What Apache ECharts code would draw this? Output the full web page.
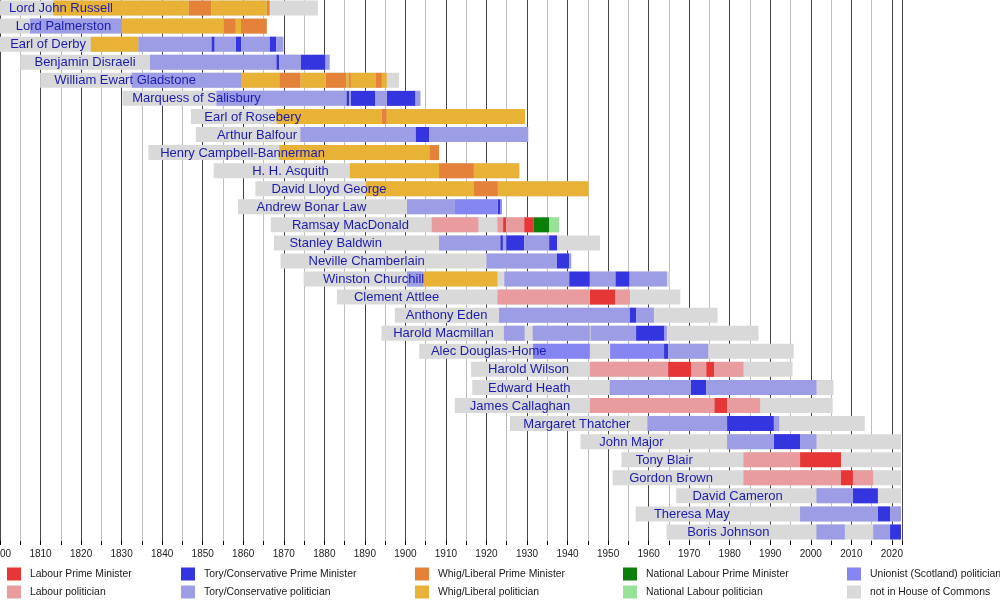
<!DOCTYPE html>
<html>
<head>
<meta charset="utf-8">
<script src="https://cdn.jsdelivr.net/npm/echarts@6/dist/echarts.min.js"></script>
<style>
  html, body { margin: 0; padding: 0; background: #fff; }
  #main { width: 1000px; height: 600px; }
</style>
</head>
<body>
<div id="main"></div>
<script>
let myChart = echarts.init(document.getElementById('main'))

// right edge of the timeline (mid 2022)
const today = 2022.25

const names = [
    'Lord John Russell', 'Lord Palmerston', 'Earl of Derby', 'Benjamin Disraeli',
    'William Ewart Gladstone', 'Marquess of Salisbury', 'Earl of Rosebery', 'Arthur Balfour',
    'Henry Campbell-Bannerman', 'H. H. Asquith', 'David Lloyd George', 'Andrew Bonar Law',
    'Ramsay MacDonald', 'Stanley Baldwin', 'Neville Chamberlain', 'Winston Churchill',
    'Clement Attlee', 'Anthony Eden', 'Harold Macmillan', 'Alec Douglas-Home',
    'Harold Wilson', 'Edward Heath', 'James Callaghan', 'Margaret Thatcher',
    'John Major', 'Tony Blair', 'Gordon Brown', 'David Cameron', 'Theresa May', 'Boris Johnson'
]

// where each name is written on its row (year)
const labelAt = [
    1802.2, 1803.9, 1802.5, 1808.5, 1813.4, 1832.6, 1850.4, 1853.5, 1839.5, 1862.2,
    1867.0, 1863.3, 1872.0, 1871.4, 1876.1, 1879.7, 1887.3, 1900.1, 1897.0, 1906.3,
    1920.4, 1920.4, 1915.9, 1929.1, 1947.8, 1956.8, 1955.2, 1970.8, 1961.3, 1969.5
]

const born = [
    1792.4, 1784.8, 1799.2, 1805.0, 1809.9, 1830.2, 1847.1, 1848.3, 1836.6, 1852.7,
    1863.0, 1858.7, 1866.8, 1867.6, 1869.2, 1874.9, 1883.1, 1897.4, 1894.1, 1903.4,
    1916.2, 1916.5, 1912.2, 1925.8, 1943.2, 1953.3, 1951.1, 1966.8, 1956.8, 1964.4
]

// null = still living
const died = [
    1878.4, 1865.8, 1869.9, 1881.3, 1898.4, 1903.7, 1929.5, 1930.3, 1908.3, 1928.1,
    1945.2, 1923.8, 1937.9, 1948.0, 1940.9, 1965.2, 1967.8, 1977.0, 1987.1, 1995.8,
    1995.5, 2005.6, 2005.4, 2013.3, null, null, null, null, null, null
]

// [from, to, kind] per row
// LP/L labour, CP/C tory, WP/W whig-liberal, NP/N national labour, U unionist (Scotland)
const terms = [
    [[1813.15, 1846.5, 'W'], [1846.5, 1852.15, 'WP'], [1852.15, 1865.8, 'W'], [1865.8, 1866.5, 'WP']],
    [[1807.4, 1830.1, 'C'], [1830.1, 1855.1, 'W'], [1855.1, 1858.15, 'WP'], [1858.15, 1859.45, 'W'], [1859.45, 1865.8, 'WP']],
    [[1822.4, 1834.1, 'W'], [1834.1, 1852.15, 'C'], [1852.15, 1852.95, 'CP'], [1852.95, 1858.15, 'C'], [1858.15, 1859.45, 'CP'],
     [1859.45, 1866.5, 'C'], [1866.5, 1868.15, 'CP'], [1868.15, 1869.9, 'C']],
    [[1837.0, 1868.15, 'C'], [1868.15, 1868.9, 'CP'], [1868.9, 1874.15, 'C'], [1874.15, 1880.3, 'CP'], [1880.3, 1881.3, 'C']],
    [[1832.5, 1859.45, 'C'], [1859.45, 1868.9, 'W'], [1868.9, 1874.15, 'WP'], [1874.15, 1880.3, 'W'], [1880.3, 1885.45, 'WP'],
     [1885.45, 1886.1, 'W'], [1886.1, 1886.55, 'WP'], [1886.55, 1892.6, 'W'], [1892.6, 1894.2, 'WP'], [1894.2, 1895.4, 'W']],
    [[1853.4, 1885.45, 'C'], [1885.45, 1886.1, 'CP'], [1886.1, 1886.55, 'C'], [1886.55, 1892.6, 'CP'], [1892.6, 1895.4, 'C'],
     [1895.4, 1902.5, 'CP'], [1902.5, 1903.7, 'C']],
    [[1868.2, 1894.2, 'W'], [1894.2, 1895.4, 'WP'], [1895.4, 1929.5, 'W']],
    [[1874.1, 1902.5, 'C'], [1902.5, 1905.9, 'CP'], [1905.9, 1930.3, 'C']],
    [[1868.9, 1905.9, 'W'], [1905.9, 1908.3, 'WP']],
    [[1886.3, 1908.3, 'W'], [1908.3, 1916.9, 'WP'], [1916.9, 1928.1, 'W']],
    [[1890.3, 1916.9, 'W'], [1916.9, 1922.8, 'WP'], [1922.8, 1945.2, 'W']],
    [[1900.4, 1912.1, 'C'], [1912.1, 1922.8, 'U'], [1922.8, 1923.4, 'CP'], [1923.4, 1923.8, 'U']],
    [[1906.5, 1918.0, 'L'], [1922.7, 1924.1, 'L'], [1924.1, 1924.85, 'LP'], [1924.85, 1929.3, 'L'], [1929.3, 1931.6, 'LP'],
     [1931.6, 1935.45, 'NP'], [1935.45, 1937.9, 'N']],
    [[1908.3, 1923.4, 'C'], [1923.4, 1924.05, 'CP'], [1924.05, 1924.85, 'C'], [1924.85, 1929.3, 'CP'], [1929.3, 1935.45, 'C'],
     [1935.45, 1937.4, 'CP']],
    [[1920.0, 1937.4, 'C'], [1937.4, 1940.4, 'CP'], [1940.4, 1940.9, 'C']],
    [[1900.4, 1904.5, 'C'], [1904.5, 1922.7, 'W'], [1924.4, 1940.4, 'C'], [1940.4, 1945.5, 'CP'], [1945.5, 1951.8, 'C'],
     [1951.8, 1955.3, 'CP'], [1955.3, 1964.5, 'C']],
    [[1922.7, 1945.5, 'L'], [1945.5, 1951.8, 'LP'], [1951.8, 1955.4, 'L']],
    [[1923.1, 1955.3, 'C'], [1955.3, 1956.9, 'CP'], [1956.9, 1961.3, 'C']],
    [[1924.3, 1929.4, 'C'], [1931.4, 1945.5, 'C'], [1945.7, 1956.9, 'C'], [1956.9, 1963.9, 'CP'], [1963.9, 1964.5, 'C']],
    [[1931.5, 1945.5, 'U'], [1950.5, 1963.8, 'U'], [1963.8, 1964.8, 'CP'], [1964.8, 1974.7, 'C']],
    [[1945.5, 1964.8, 'L'], [1964.8, 1970.45, 'LP'], [1970.45, 1974.2, 'L'], [1974.2, 1976.2, 'LP'], [1976.2, 1983.4, 'L']],
    [[1950.4, 1970.45, 'C'], [1970.45, 1974.2, 'CP'], [1974.2, 2001.4, 'C']],
    [[1945.5, 1976.2, 'L'], [1976.2, 1979.35, 'LP'], [1979.35, 1987.5, 'L']],
    [[1959.7, 1979.35, 'C'], [1979.35, 1990.9, 'CP'], [1990.9, 1992.2, 'C']],
    [[1979.35, 1990.9, 'C'], [1990.9, 1997.35, 'CP'], [1997.35, 2001.4, 'C']],
    [[1983.4, 1997.35, 'L'], [1997.35, 2007.45, 'LP']],
    [[1983.4, 2007.45, 'L'], [2007.45, 2010.4, 'LP'], [2010.4, 2015.4, 'L']],
    [[2001.4, 2010.4, 'C'], [2010.4, 2016.55, 'CP']],
    [[1997.35, 2016.55, 'C'], [2016.55, 2019.55, 'CP'], [2019.55, today, 'C']],
    [[2001.4, 2008.4, 'C'], [2015.4, 2019.55, 'C'], [2019.55, today, 'CP']]
]

const kinds = [
    {key: 'LP', name: 'Labour Prime Minister', color: '#e63636'},
    {key: 'L', name: 'Labour politician', color: '#e89c9f'},
    {key: 'CP', name: 'Tory/Conservative Prime Minister', color: '#3535e0'},
    {key: 'C', name: 'Tory/Conservative politician', color: '#9d9de6'},
    {key: 'WP', name: 'Whig/Liberal Prime Minister', color: '#e5823a'},
    {key: 'W', name: 'Whig/Liberal politician', color: '#e8b236'},
    {key: 'NP', name: 'National Labour Prime Minister', color: '#0a800a'},
    {key: 'N', name: 'National Labour politician', color: '#98e298'},
    {key: 'U', name: 'Unionist (Scotland) politician', color: '#8585f2'},
    {key: 'OUT', name: 'not in House of Commons', color: '#d9d9d9'}
]

const font = '"Liberation Sans", Arial, sans-serif'

function renderBar(params, api) {
    let row = api.value(0)
    let p0 = api.coord([api.value(1), row])
    let p1 = api.coord([api.value(2), row])
    let h = api.size([0, 1])[1] * 0.83
    let shape = echarts.graphic.clipRectByRect(
        {x: p0[0], y: p0[1] - h / 2, width: p1[0] - p0[0], height: h},
        {x: params.coordSys.x, y: params.coordSys.y, width: params.coordSys.width, height: params.coordSys.height}
    )
    return shape && {type: 'rect', shape: shape, style: api.style()}
}

function renderLabel(params, api) {
    let p = api.coord([api.value(1), api.value(0)])
    return {
        type: 'text',
        x: p[0], y: p[1] + 0.5,
        style: {
            text: names[api.value(0)],
            fill: '#1c1cad',
            font: '13px ' + font,
            align: 'left',
            verticalAlign: 'middle'
        }
    }
}

// one custom series per kind, so the legend picks up the colours
let barSeries = kinds.map(k => {
    let data
    if (k.key === 'OUT')
        data = names.map((n, i) => [i, born[i], died[i] === null ? today : died[i]])
    else {
        data = []
        terms.forEach((row, i) => row.forEach(t => { if (t[2] === k.key) data.push([i, t[0], t[1]]) }))
    }
    return {
        type: 'custom',
        name: k.name,
        renderItem: renderBar,
        itemStyle: {color: k.color},
        encode: {x: [1, 2], y: 0},
        data: data,
        z: k.key === 'OUT' ? 2 : 3,
        silent: true
    }
})

let legendCols = [7, 181, 415, 623, 847]
let legends = legendCols.map((left, c) => ({
    orient: 'vertical',
    left: left,
    top: 567.5,
    padding: 0,
    itemWidth: 14,
    itemHeight: 13,
    itemGap: 5,
    icon: 'rect',
    selectedMode: false,
    textStyle: {fontSize: 10.4, color: '#1a1a1a', fontFamily: font, padding: [0, 0, 0, 4]},
    data: [kinds[c * 2].name, kinds[c * 2 + 1].name]
}))

let option = {
    backgroundColor: '#fff',
    animation: false,
    grid: {left: 0, top: -1, width: 902, height: 542, containLabel: false, outerBoundsMode: 'none'},
    legend: legends,
    xAxis: {
        type: 'value',
        min: 1800,
        max: 2022.5,
        interval: 10,
        axisLine: {lineStyle: {color: '#000', width: 1}},
        axisTick: {show: true, length: 4, lineStyle: {color: '#000'}},
        minorTick: {show: true, splitNumber: 2, length: 4, lineStyle: {color: '#000'}},
        axisLabel: {fontSize: 10, color: '#222', fontFamily: font, margin: 8, formatter: v => String(v)},
        splitLine: {show: true, lineStyle: {color: '#444', width: 1}},
        minorSplitLine: {show: true, lineStyle: {color: '#bdbdbd', width: 1}}
    },
    yAxis: {
        type: 'category',
        inverse: true,
        data: names,
        show: false
    },
    series: [
        ...barSeries,
        {
            type: 'custom',
            name: 'labels',
            renderItem: renderLabel,
            encode: {x: 1, y: 0},
            data: labelAt.map((x, i) => [i, x]),
            z: 5,
            silent: true
        }
    ]
}

myChart.setOption(option)
</script>
</body>
</html>
